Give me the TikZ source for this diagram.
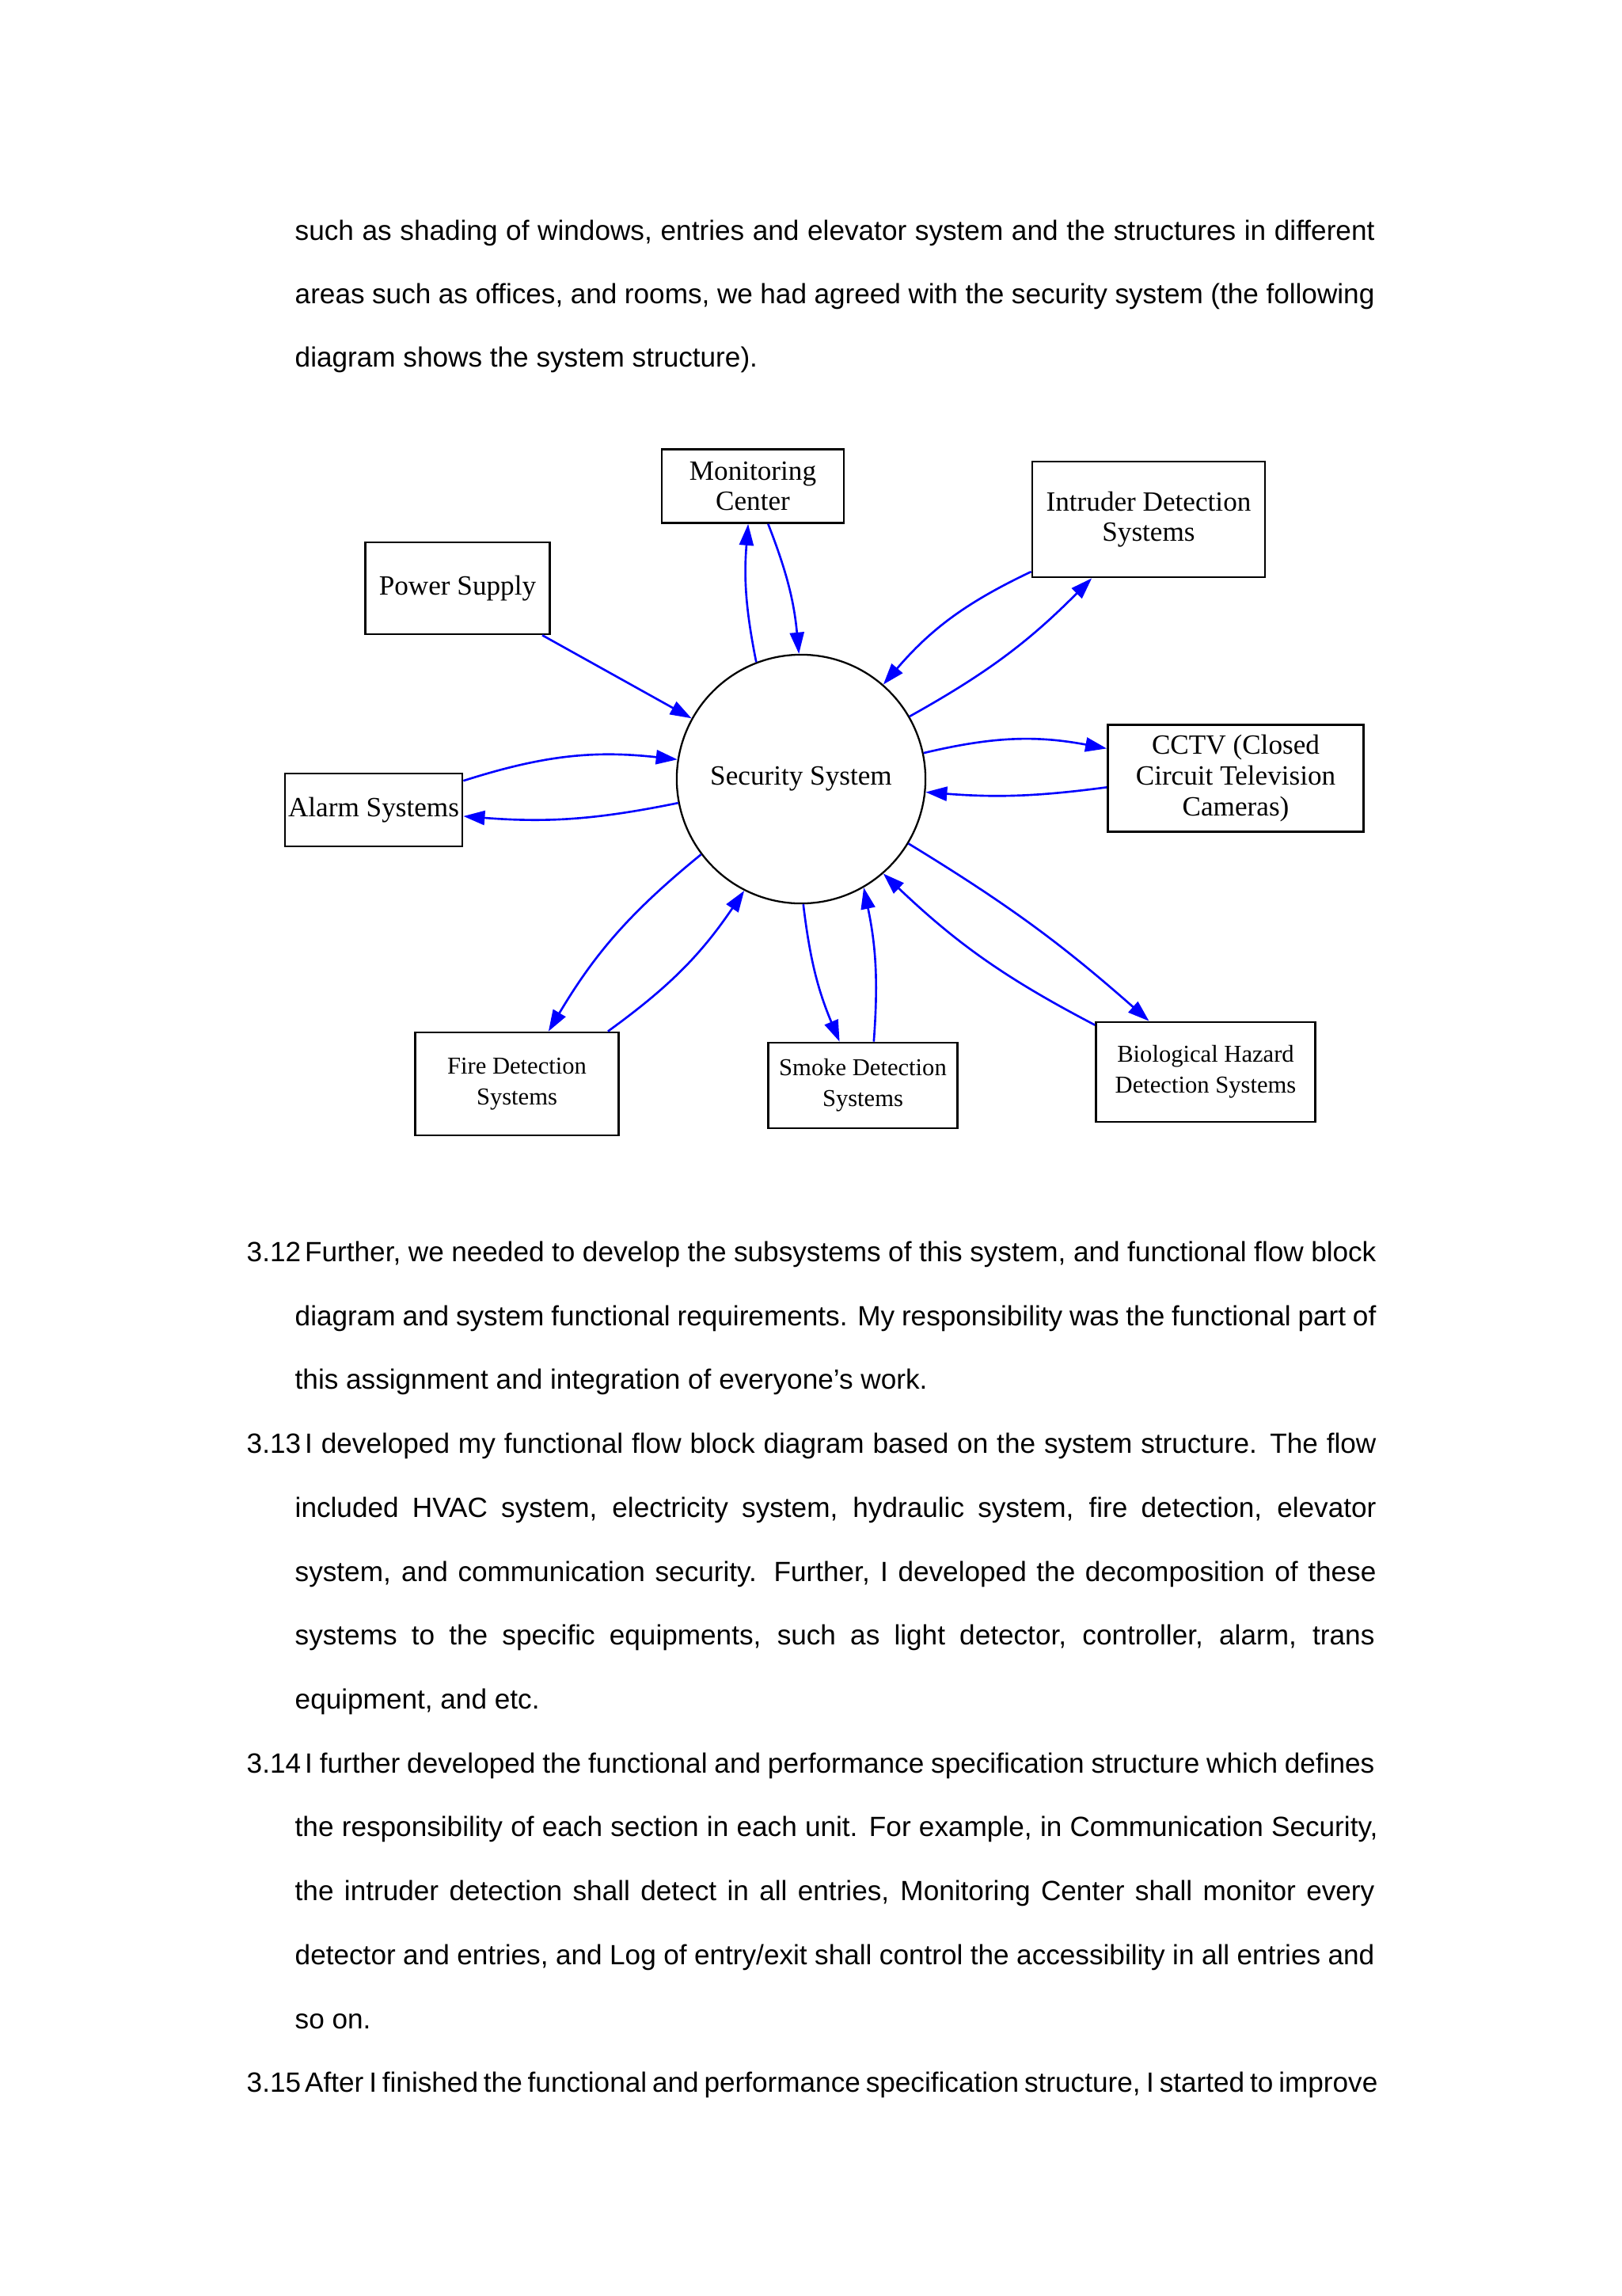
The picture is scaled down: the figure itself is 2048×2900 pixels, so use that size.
\documentclass[tikz,border=0pt]{standalone}
\usepackage{fontspec}
\setmainfont{Liberation Sans}
\newfontfamily\graphfont{Liberation Serif}
\usetikzlibrary{arrows.meta}

\begin{document}
\begin{tikzpicture}[x=0.01cm,y=0.01cm,
  box/.style={draw,rectangle,line width=0.75pt,inner sep=0pt,align=center,
    font=\graphfont\fontsize{10}{11}\selectfont},
  sbox/.style={box,font=\graphfont\fontsize{8.7}{11}\selectfont},
  hub/.style={draw,circle,line width=0.65pt,inner sep=0pt,minimum size=3.14cm,
    font=\graphfont\fontsize{10}{11}\selectfont},
  link/.style={draw=blue,line width=0.75pt,-{Triangle[length=0.27cm,width=0.18cm]}},
  txt/.style={anchor=base west,inner sep=0pt,font=\fontsize{10}{12}\selectfont}]

  \fill[white] (0,0) rectangle (2048,-2900);
  \useasboundingbox (0,0) rectangle (2048,-2900);

  \node[txt] (P1) at (372,-303) {\makebox[13.63cm][s]{such as shading of windows, entries and elevator system and the structures in different}};
  \node[txt] (P2) at (372,-383) {\makebox[13.63cm][s]{areas such as offices, and rooms, we had agreed with the security system (the following}};
  \node[txt] (P3) at (372,-463) {diagram shows the system structure).};

  \node[hub] (Sec) at (1012,-984) {Security System};
  \node[box,minimum width=2.30cm,minimum height=0.93cm] (Mon) at (951,-614) {Monitoring\\Center};
  \node[box,minimum width=2.94cm,minimum height=1.46cm] (Int) at (1451,-656) {Intruder Detection\\Systems};
  \node[box,minimum width=2.33cm,minimum height=1.16cm] (Pwr) at (578,-743) {Power Supply};
  \node[box,minimum width=3.23cm,minimum height=1.35cm] (Cct) at (1561,-983) {CCTV (Closed\\Circuit Television\\Cameras)};
  \node[box,minimum width=2.24cm,minimum height=0.92cm] (Alm) at (472,-1023) {Alarm Systems};
  \node[sbox,minimum width=2.57cm,minimum height=1.30cm] (Fir) at (653,-1369) {Fire Detection\\Systems};
  \node[sbox,minimum width=2.39cm,minimum height=1.08cm] (Smk) at (1090,-1371) {Smoke Detection\\Systems};
  \node[sbox,minimum width=2.77cm,minimum height=1.26cm] (Bio) at (1523,-1354) {Biological Hazard\\Detection Systems};

  \draw[link] (Pwr.-29) -- (Sec.151);
  \draw[link] (Sec.111) to[bend left=8] (Mon.-97);
  \draw[link] (Mon.-68) to[bend left=8] (Sec.91);
  \draw[link] (Int.-156) to[bend right=12] (Sec.49);
  \draw[link] (Sec.30) to[bend right=8] (Int.-134);
  \draw[link] (Sec.12) to[bend left=12] (Cct.167);
  \draw[link] (Cct.-176) to[bend left=6] (Sec.-6);
  \draw[link] (Alm.18) to[bend left=12] (Sec.171);
  \draw[link] (Sec.-169) to[bend left=8] (Alm.-4);
  \draw[link] (Sec.-143) to[bend right=10] (Fir.59);
  \draw[link] (Fir.30) to[bend right=10] (Sec.-117);
  \draw[link] (Sec.-89) to[bend right=8] (Smk.118);
  \draw[link] (Smk.76) to[bend right=8] (Sec.-60);
  \draw[link] (Sec.-31) to[bend left=5] (Bio.138);
  \draw[link] (Bio.157) to[bend left=8] (Sec.-49);

  \node[txt] (Q1) at (311,-1593) {\makebox[14.26cm][s]{3.12\hspace{0.05cm}Further, we needed to develop the subsystems of this system, and functional flow block}};
  \node[txt] (Q2) at (372,-1674) {\makebox[13.65cm][s]{diagram and system functional requirements. My responsibility was the functional part of}};
  \node[txt] (Q3) at (372,-1754) {this assignment and integration of everyone’s work.};
  \node[txt] (R1) at (311,-1835) {\makebox[14.26cm][s]{3.13\hspace{0.05cm}I developed my functional flow block diagram based on the system structure. The flow}};
  \node[txt] (R2) at (372,-1916) {\makebox[13.65cm][s]{included HVAC system, electricity system, hydraulic system, fire detection, elevator}};
  \node[txt] (R3) at (372,-1997) {\makebox[13.65cm][s]{system, and communication security. Further, I developed the decomposition of these}};
  \node[txt] (R4) at (372,-2077) {\makebox[13.63cm][s]{systems to the specific equipments, such as light detector, controller, alarm, trans}};
  \node[txt] (R5) at (372,-2158) {equipment, and etc.};
  \node[txt] (S1) at (311,-2239) {\makebox[14.24cm][s]{3.14\hspace{0.05cm}I further developed the functional and performance specification structure which defines}};
  \node[txt] (S2) at (372,-2319) {\makebox[13.67cm][s]{the responsibility of each section in each unit. For example, in Communication Security,}};
  \node[txt] (S3) at (372,-2400) {\makebox[13.63cm][s]{the intruder detection shall detect in all entries, Monitoring Center shall monitor every}};
  \node[txt] (S4) at (372,-2481) {\makebox[13.63cm][s]{detector and entries, and Log of entry/exit shall control the accessibility in all entries and}};
  \node[txt] (S5) at (372,-2562) {so on.};
  \node[txt] (T1) at (311,-2642) {\makebox[14.28cm][s]{3.15\hspace{0.05cm}After I finished the functional and performance specification structure, I started to improve}};

\end{tikzpicture}
\end{document}
